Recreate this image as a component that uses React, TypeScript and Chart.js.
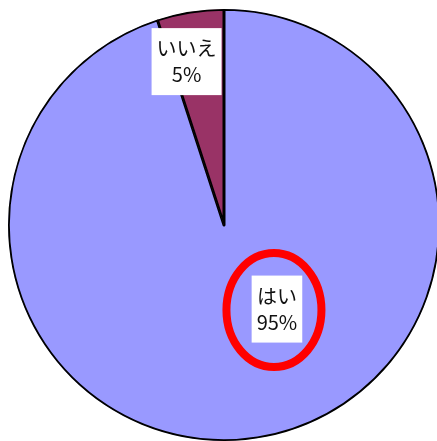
import React, { useEffect, useRef } from "react";
import { Chart, registerables } from "chart.js";

Chart.register(...registerables);

const categories = ["はい", "いいえ"];
const values = [95, 5];
const percentLabels = ["95%", "5%"];
const sliceColors = ["#9999FF", "#993366"];

const labelPlugin = {
  id: "boxLabels",
  afterDatasetsDraw(chart: any) {
    const ctx = chart.ctx;
    const meta = chart.getDatasetMeta(0);
    // polar placement (angle in degrees, fraction of radius) for each label
    const place = [
      { ang: 57.8, frac: 0.46 },
      { ang: -102.9, frac: 0.776 },
    ];
    const font = '20px "Noto Sans CJK JP", "Noto Sans", sans-serif';
    meta.data.forEach((arc: any, i: number) => {
      const { x, y, outerRadius } = arc.getProps(["x", "y", "outerRadius"], true);
      const a = (place[i].ang * Math.PI) / 180;
      const cx = x + Math.cos(a) * outerRadius * place[i].frac;
      const cy = y + Math.sin(a) * outerRadius * place[i].frac;
      ctx.save();
      ctx.font = font;
      const w1 = ctx.measureText(categories[i]).width;
      const w2 = ctx.measureText(percentLabels[i]).width;
      const bw = Math.max(w1, w2) + 10;
      const bh = 67;
      ctx.fillStyle = "#FFFFFF";
      ctx.fillRect(cx - bw / 2, cy - bh / 2, bw, bh);
      ctx.fillStyle = "#111111";
      ctx.textAlign = "center";
      ctx.textBaseline = "middle";
      ctx.fillText(categories[i], cx, cy - 13);
      ctx.fillText(percentLabels[i], cx, cy + 13);
      if (i === 0) {
        ctx.beginPath();
        ctx.ellipse(cx - 3, cy + 1, 47.5, 57, 0, 0, Math.PI * 2);
        ctx.strokeStyle = "#FF0000";
        ctx.lineWidth = 8;
        ctx.stroke();
      }
      ctx.restore();
    });
  },
};

export default function App() {
  const ref = useRef<HTMLCanvasElement | null>(null);
  useEffect(() => {
    if (!ref.current) return;
    const chart = new Chart(ref.current, {
      type: "pie",
      data: {
        labels: categories,
        datasets: [
          {
            data: values,
            backgroundColor: sliceColors,
            borderColor: "#000000",
            borderWidth: 1.5,
            borderAlign: "inner",
          },
        ],
      },
      options: {
        responsive: false,
        animation: false,
        layout: { padding: 8 },
        plugins: {
          legend: { display: false },
          tooltip: { enabled: false },
          title: { display: false },
        },
      },
      plugins: [labelPlugin],
    });
    return () => chart.destroy();
  }, []);
  return (
    <div
      style={{
        position: "fixed",
        left: 0,
        top: 0,
        width: 437,
        height: 441,
        overflow: "hidden",
        background: "#FFFFFF",
      }}
    >
      <canvas ref={ref} width={448} height={450} style={{ width: 448, height: 450 }} />
    </div>
  );
}
